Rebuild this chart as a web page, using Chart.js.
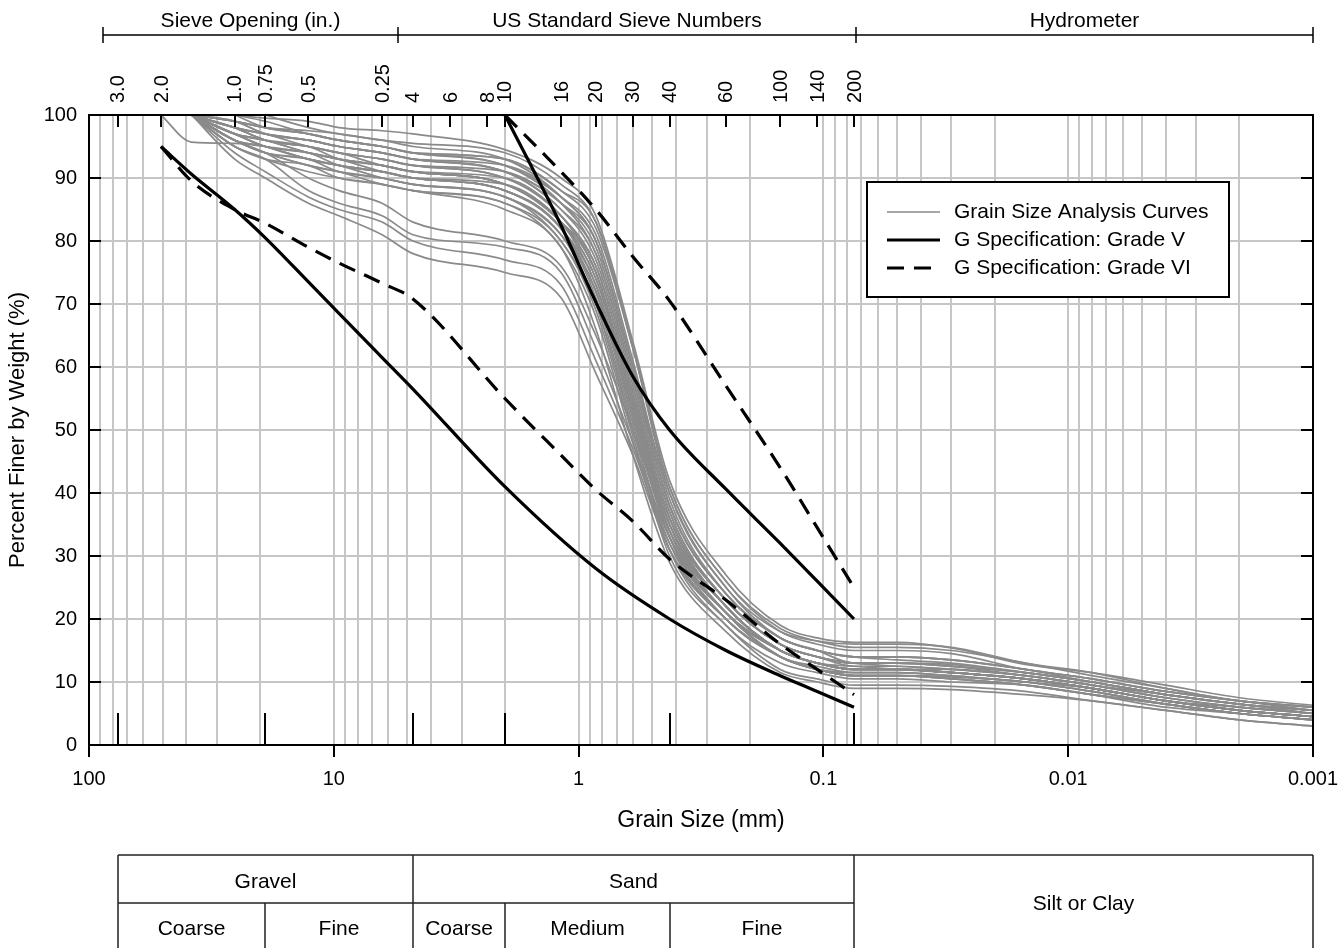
<!DOCTYPE html>
<html>
<head>
<meta charset="utf-8">
<title>Grain Size Distribution</title>
<script src="https://cdn.jsdelivr.net/npm/chart.js@4.4.0/dist/chart.umd.min.js"></script>
<style>
  html, body { margin: 0; padding: 0; background: #fff; }
  canvas { display: block; }
</style>
</head>
<body>
<canvas id="chart" width="1341" height="948"></canvas>
<script>
// grain sizes (mm) where every sample was measured: sieves, then hydrometer readings
const sampleSizes = [50.8, 38.1, 25.4, 19.05, 12.7, 9.525, 6.35, 4.75, 2.0, 1.18, 0.85, 0.6, 0.425, 0.25, 0.15, 0.106, 0.075,
  0.05, 0.03, 0.015, 0.008, 0.004, 0.002, 0.001];

// percent finer for each sample, same order as sampleSizes
const samplePercents = [
  [null, 100, 98, 97, 96, 95, 94, 93, 92, 87, 80, 60, 38, 24, 17, 15, 14, 13.5, 13, 11.5, 10, 8, 6.5, 5.5],
  [null, 100, 99, 98, 97, 96, 95, 94, 93, 88, 82, 63, 41, 26, 18, 16, 15, 15, 14.5, 12, 10.5, 8.5, 7, 6],
  [null, 100, 97, 96, 94, 93, 92, 91, 89, 83, 73, 53, 35, 22, 15, 13, 12, 12, 11.5, 10.5, 9, 7, 5.5, 4.5],
  [null, 100, 98, 96, 95, 94, 93, 92, 90, 84, 76, 56, 36, 23, 16, 14, 13, 12.5, 12, 11, 9.5, 7.5, 6, 5],
  [null, 100, 96, 95, 93, 92, 91, 90, 88, 82, 71, 51, 33, 21, 14, 12, 11, 11, 10.8, 10, 8.5, 6.5, 5, 4],
  [null, 100, 97, 95, 93, 92, 90, 89, 87, 81, 70, 50, 32, 20, 14, 12, 11.5, 11.5, 11, 10, 9, 7, 5.5, 4.5],
  [null, 100, 99, 97, 96, 95, 94, 93, 91, 85, 78, 58, 37, 23, 16, 14, 13, 13, 12.8, 11.5, 10, 8, 6.5, 5],
  [null, 100, 96, 94, 92, 91, 89, 88, 86, 79, 68, 48, 31, 20, 14, 12, 11, 11, 10.5, 9.5, 8, 6.5, 5, 4],
  [null, 100, 95, 93, 91, 90, 89, 88, 86, 80, 69, 49, 30, 19, 12, 10.5, 9.5, 9.5, 9.3, 8.5, 7, 5.5, 4, 3],
  [null, 100, 98, 97, 95, 94, 93, 92, 91, 86, 80, 60, 40, 25, 18, 16.5, 16, 16, 15.5, 13, 11.5, 9, 7, 6],
  [null, 100, 97, 96, 94, 93, 92, 91, 90, 84, 75, 55, 36, 23, 16, 14, 13, 13, 12.5, 11, 9.5, 8, 6.5, 5.5],
  [null, 100, 96, 94, 93, 91, 90, 89, 87, 81, 72, 52, 34, 21, 15, 13, 12, 12, 11.5, 10.5, 9, 7, 5.5, 4.5],
  [null, 100, 99, 98, 97, 96, 95, 94, 92, 87, 81, 61, 39, 24, 17, 15, 14, 14, 13.5, 12, 10, 8, 6.5, 5.5],
  [null, 100, 95, 93, 92, 90, 89, 88, 85, 79, 66, 46, 29, 18, 11.5, 10, 9, 9, 8.8, 8, 7, 5.5, 4, 3],
  [null, 100, 97, 95, 94, 92, 91, 90, 88, 82, 73, 53, 34, 22, 15, 13, 12.5, 12, 11.5, 10.5, 9, 7, 5.5, 4.5],
  [null, 100, 98, 96, 95, 94, 92, 91, 89, 83, 75, 54, 35, 22, 15, 13, 12, 12, 11.5, 10.5, 9, 7, 6, 5],
  [null, 100, 96, 95, 93, 92, 91, 90, 88, 82, 72, 52, 33, 20, 14, 12, 11, 11, 10.8, 10, 8.5, 6.5, 5, 4],
  [null, 100, 97, 96, 95, 93, 92, 91, 89, 83, 76, 56, 36, 23, 16, 14, 13, 13, 12.5, 11.5, 10, 8, 6.5, 5.5],
  [null, null, 100, 98, 97, 96, 95, 94, 92, 86, 78, 58, 37, 23, 16, 14, 12.5, 12.5, 12, 11, 9.5, 7.5, 6, 5],
  [null, null, 100, 99, 97, 96, 95, 94, 93, 88, 83, 63, 40, 25, 17, 15, 14, 14, 13.5, 12, 10.5, 8.5, 7, 6],
  [null, null, null, 100, 98, 97, 96, 95, 93, 87, 80, 60, 38, 24, 17, 15, 13, 13, 12.5, 11.5, 10, 8, 6.5, 5],
  [100, 95.7, 95.5, 95, 94, 93, 92, 91, 89, 83, 74, 54, 35, 22, 15, 13, 12, 12, 11.5, 10.5, 9, 7, 5.5, 4.5],
  [null, 100, 96, 94, 92, 91, 90, 89, 87, 80, 70, 50, 31, 19, 13, 11.5, 10.5, 10.5, 10, 9.5, 8, 6.5, 5, 4],
  [null, 100, 98, 97, 96, 95, 94, 93, 91, 86, 79, 59, 38, 24, 17, 15, 14, 14, 13.5, 12, 10.5, 8.5, 7, 5.5],
  [null, 100, 97, 95, 94, 93, 91, 90, 88, 82, 72, 52, 33, 21, 15, 13, 12, 12, 11.5, 10.5, 9, 7, 5.5, 4.5],
  [null, 100, 99, 97, 96, 95, 94, 93, 91, 85, 77, 57, 36, 22, 15, 13, 12, 12, 12, 11, 9.5, 7.5, 6, 5],
  [null, 100, 96, 94, 93, 92, 91, 90, 89, 83, 74, 54, 34, 21, 14, 12.5, 11.5, 11.5, 11, 10, 8.5, 6.5, 5, 4],
  [null, 100, 98, 96, 95, 94, 93, 92, 90, 84, 75, 55, 35, 22, 15, 13, 12, 12, 11.5, 10.5, 9, 7, 5.5, 4.5],
  [null, 100, 95, 93, 88, 86, 84, 81, 79, 75, 63, 48, 33, 21, 14, 12, 11, 11, 10.5, 9.5, 8, 6.5, 5, 4],
  [null, 100, 94, 91, 87, 85, 83, 80, 77, 73, 61, 47, 32, 21, 15, 13, 12, 12, 11.5, 10.5, 9, 7, 5.5, 4.5],
  [null, 100, 93, 90, 86, 84, 81, 78, 75, 71, 59, 46, 31, 20, 14, 12, 11, 11, 10.5, 9.5, 8, 6, 5, 4],
  [null, 100, 96, 94, 90, 88, 86, 83, 80, 76, 65, 50, 34, 22, 15, 13, 12, 12, 11.5, 10.5, 9, 7, 5.5, 4.5],
  [null, null, 100, 99.5, 99, 98, 97.5, 97, 94.5, 90, 84, 64, 42, 27, 19, 17, 16.3, 16.3, 15.4, 12.8, 11.5, 9.5, 7.5, 6.3],
  [null, 100, 99, 98, 97.5, 97, 96, 95.5, 94, 89, 83, 63, 41, 26, 18.5, 16.5, 15.5, 15.5, 15, 13, 11, 9, 7, 6]
];

// specification bands
const gradeVUpperSizes = [2.0, 1.18, 0.85, 0.6, 0.425, 0.25, 0.15, 0.106, 0.075];
const gradeVUpper = [100, 82.5, 70.3, 58.5, 50, 40.6, 32, 26, 20];
const gradeVLowerSizes = [50.8, 38.1, 25.4, 19.05, 12.7, 9.525, 6.35, 4.75, 2.0, 0.85, 0.425, 0.25, 0.15, 0.106, 0.075];
const gradeVLower = [95, 90.6, 85, 80.5, 73.5, 68.5, 61.5, 56.5, 41, 28, 20, 15, 11, 8.5, 6];
const gradeVIUpperSizes = [2.0, 1.18, 0.85, 0.6, 0.425, 0.25, 0.15, 0.106, 0.075];
const gradeVIUpper = [100, 91, 85, 77.5, 70.5, 57, 44, 34.5, 25];
const gradeVILowerSizes = [50.8, 38.1, 25.4, 19.05, 12.7, 9.525, 6.35, 4.75, 2.0, 1.18, 0.85, 0.6, 0.425, 0.25, 0.15, 0.106, 0.075];
const gradeVILower = [95, 89.5, 85, 82.8, 79, 76.5, 73.3, 70.8, 55, 46, 40.5, 35.5, 29.5, 23, 16, 12, 8];

// top axis: sieve openings and numbers
const sieveSizes = [76.2, 50.8, 25.4, 19.05, 12.7, 6.35, 4.75, 3.35, 2.36, 2.0, 1.18, 0.85, 0.6, 0.425, 0.25, 0.15, 0.106, 0.075];
const sieveLabels = ['3.0', '2.0', '1.0', '0.75', '0.5', '0.25', '4', '6', '8', '10', '16', '20', '30', '40', '60', '100', '140', '200'];
const bracketSizes = [87.3, 5.49, 0.0735, 0.001];
const bracketLabels = ['Sieve Opening (in.)', 'US Standard Sieve Numbers', 'Hydrometer'];

// bottom axis ticks
const decadeValues = [100, 10, 1, 0.1, 0.01, 0.001];
const decadeLabels = ['100', '10', '1', '0.1', '0.01', '0.001'];
const gridMultipliers = [1, 2, 3, 4, 5, 6, 7, 8, 9];
const percentTicks = [0, 10, 20, 30, 40, 50, 60, 70, 80, 90, 100];

// soil classification bands (mm)
const classBounds = [76.2, 19.05, 4.75, 2.0, 0.425, 0.075, 0.001];
const classGroups = [
  { label: 'Gravel', from: 76.2, to: 4.75 },
  { label: 'Sand', from: 4.75, to: 0.075 }
];
const classSubs = [
  { label: 'Coarse', from: 76.2, to: 19.05 },
  { label: 'Fine', from: 19.05, to: 4.75 },
  { label: 'Coarse', from: 4.75, to: 2.0 },
  { label: 'Medium', from: 2.0, to: 0.425 },
  { label: 'Fine', from: 0.425, to: 0.075 }
];

const FONT = "'Liberation Sans', Arial, Helvetica, sans-serif";
const GRID = '#c6c6c6';
const SAMPLE = '#8a8a8a';

const isDecade = v => Math.abs(Math.log10(v) - Math.round(Math.log10(v))) < 1e-9;
const gridSizes = [];
decadeValues.slice(1).forEach(d => gridMultipliers.forEach(m => gridSizes.push(m * d)));
gridSizes.push(100);

const pts = (sizes, vals) => sizes.map((s, i) => ({ x: s, y: vals[i] }));

const specLine = (label, sizes, vals, dash) => ({
  label, data: pts(sizes, vals),
  borderColor: '#000', borderWidth: 3.2, borderDash: dash,
  pointRadius: 0, cubicInterpolationMode: 'monotone', fill: false, order: 0
});

const datasets = [
  specLine('G Specification: Grade V', gradeVUpperSizes, gradeVUpper, []),
  specLine('G Specification: Grade V', gradeVLowerSizes, gradeVLower, []),
  specLine('G Specification: Grade VI', gradeVIUpperSizes, gradeVIUpper, [17, 10]),
  specLine('G Specification: Grade VI', gradeVILowerSizes, gradeVILower, [17, 10])
];
samplePercents.forEach(row => {
  datasets.push({
    label: 'Grain Size Analysis Curves',
    data: pts(sampleSizes, row),
    borderColor: SAMPLE, borderWidth: 1.7,
    pointRadius: 0, cubicInterpolationMode: 'monotone', fill: false, order: 1
  });
});

// legend entries, in drawing order
const legendLabels = ['Grain Size Analysis Curves', 'G Specification: Grade V', 'G Specification: Grade VI'];

const decorations = {
  id: 'decorations',
  afterDatasetsDraw(chart) {
    const { ctx, chartArea: a, scales: { x, y } } = chart;
    ctx.save();
    ctx.strokeStyle = '#000';
    ctx.lineWidth = 2;
    ctx.beginPath();
    // inward percent ticks on both sides
    percentTicks.forEach(p => {
      const py = Math.round(y.getPixelForValue(p));
      ctx.moveTo(a.left, py); ctx.lineTo(a.left + 12, py);
      ctx.moveTo(a.right, py); ctx.lineTo(a.right - 12, py);
    });
    // inward sieve ticks along the top
    sieveSizes.forEach(s => {
      const px = Math.round(x.getPixelForValue(s));
      ctx.moveTo(px, a.top); ctx.lineTo(px, a.top + 12);
    });
    // classification boundaries along the bottom
    classBounds.slice(0, -1).forEach(s => {
      const px = Math.round(x.getPixelForValue(s));
      ctx.moveTo(px, a.bottom); ctx.lineTo(px, a.bottom - 32);
    });
    ctx.stroke();
    ctx.strokeRect(a.left, a.top, a.right - a.left, a.bottom - a.top);

    // legend box
    const bx = a.right - 446, by = a.top + 67, bw = 362, bh = 115;
    ctx.fillStyle = '#fff';
    ctx.fillRect(bx, by, bw, bh);
    ctx.strokeRect(bx, by, bw, bh);
    ctx.font = '21px ' + FONT;
    ctx.textBaseline = 'middle';
    ctx.textAlign = 'left';
    legendLabels.forEach((lbl, i) => {
      const ds = chart.data.datasets.find(d => d.label === lbl);
      const ly = by + 30 + i * 28;
      ctx.save();
      ctx.strokeStyle = ds.borderColor;
      ctx.lineWidth = ds.borderWidth;
      ctx.setLineDash(ds.borderDash || []);
      ctx.beginPath();
      ctx.moveTo(bx + 20, ly); ctx.lineTo(bx + 73, ly);
      ctx.stroke();
      ctx.restore();
      ctx.fillStyle = '#000';
      ctx.fillText(lbl, bx + 87, ly);
    });
    ctx.restore();
  },
  afterDraw(chart) {
    const { ctx, chartArea: a, scales: { x } } = chart;
    ctx.save();
    ctx.fillStyle = '#000';
    ctx.strokeStyle = '#000';

    // rotated sieve labels
    ctx.font = '20px ' + FONT;
    ctx.textAlign = 'left';
    ctx.textBaseline = 'middle';
    sieveSizes.forEach((s, i) => {
      ctx.save();
      ctx.translate(x.getPixelForValue(s), a.top - 12);
      ctx.rotate(-Math.PI / 2);
      ctx.fillText(sieveLabels[i], 0, 1);
      ctx.restore();
    });

    // range brackets
    const ly = 35;
    const bxs = bracketSizes.map(s => Math.round(x.getPixelForValue(s)));
    ctx.lineWidth = 1.5;
    ctx.beginPath();
    ctx.moveTo(bxs[0], ly); ctx.lineTo(bxs[bxs.length - 1], ly);
    bxs.forEach(px => { ctx.moveTo(px, ly - 8); ctx.lineTo(px, ly + 8); });
    ctx.stroke();
    ctx.font = '21px ' + FONT;
    ctx.textAlign = 'center';
    bracketLabels.forEach((t, i) => ctx.fillText(t, (bxs[i] + bxs[i + 1]) / 2, 21));

    // classification table
    const t0 = 855, t1 = 903, t2 = 955;
    const px = s => Math.round(x.getPixelForValue(s));
    const left = px(classBounds[0]), right = px(classBounds[classBounds.length - 1]);
    const split = px(0.075);
    ctx.strokeStyle = '#222';
    ctx.lineWidth = 1.5;
    ctx.beginPath();
    ctx.moveTo(left, t0); ctx.lineTo(right, t0);
    ctx.moveTo(left, t1); ctx.lineTo(split, t1);
    ctx.moveTo(left, t2); ctx.lineTo(right, t2);
    ctx.moveTo(left, t0); ctx.lineTo(left, t2);
    ctx.moveTo(right, t0); ctx.lineTo(right, t2);
    ctx.moveTo(split, t0); ctx.lineTo(split, t2);
    ctx.moveTo(px(4.75), t0); ctx.lineTo(px(4.75), t2);
    [19.05, 2.0, 0.425].forEach(s => { ctx.moveTo(px(s), t1); ctx.lineTo(px(s), t2); });
    ctx.stroke();
    ctx.fillStyle = '#000';
    ctx.font = '21px ' + FONT;
    classGroups.forEach(g => ctx.fillText(g.label, (px(g.from) + px(g.to)) / 2, (t0 + t1) / 2 + 3));
    classSubs.forEach(g => ctx.fillText(g.label, (px(g.from) + px(g.to)) / 2, 929));
    ctx.fillText('Silt or Clay', (split + right) / 2, 904);
    ctx.restore();
  }
};

new Chart(document.getElementById('chart'), {
  type: 'line',
  data: { datasets },
  options: {
    responsive: false,
    animation: false,
    events: [],
    layout: { padding: { top: 115, right: 28, left: 0, bottom: 0 } },
    plugins: { legend: { display: false }, tooltip: { enabled: false } },
    scales: {
      x: {
        type: 'logarithmic',
        reverse: true,
        min: 0.001,
        max: 100,
        afterFit: s => { s.height = 203; },
        afterBuildTicks: s => { s.ticks = gridSizes.map(v => ({ value: v, major: isDecade(v) })); },
        ticks: {
          autoSkip: false, maxRotation: 0, minRotation: 0, padding: 10,
          color: '#000', font: { family: FONT, size: 20 },
          callback: v => {
            const i = decadeValues.findIndex(d => Math.abs(Math.log10(d) - Math.log10(v)) < 1e-9);
            return i >= 0 ? decadeLabels[i] : '';
          }
        },
        grid: {
          color: GRID, lineWidth: 2, tickLength: 12, tickWidth: 2,
          tickColor: c => (c.tick && isDecade(c.tick.value)) ? '#000' : 'rgba(0,0,0,0)'
        },
        border: { display: false },
        title: {
          display: true, text: 'Grain Size (mm)', color: '#000',
          font: { family: FONT, size: 23 }, padding: { top: 0, bottom: 114 }
        }
      },
      y: {
        min: 0,
        max: 100,
        afterFit: s => { s.width = 89; },
        afterBuildTicks: s => { s.ticks = percentTicks.map(v => ({ value: v })); },
        ticks: { padding: 12, color: '#000', font: { family: FONT, size: 20 } },
        grid: { color: GRID, lineWidth: 2, drawTicks: false },
        border: { display: false },
        title: {
          display: true, text: 'Percent Finer by Weight (%)', color: '#000',
          font: { family: FONT, size: 22 }, padding: { top: 5, bottom: 0 }
        }
      }
    }
  },
  plugins: [decorations]
});
</script>
</body>
</html>
